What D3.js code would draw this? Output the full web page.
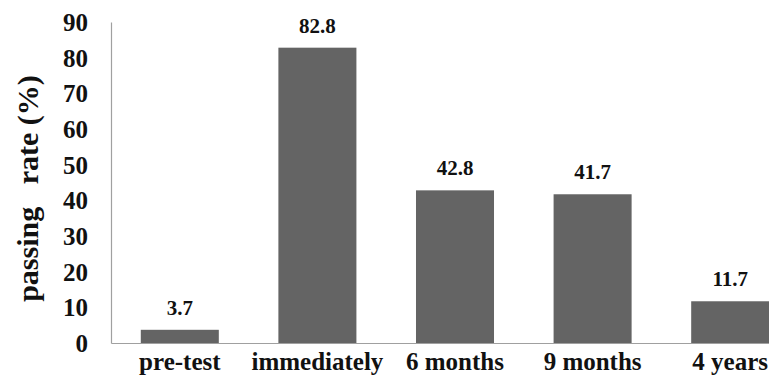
<!DOCTYPE html>
<html>
<head>
<meta charset="utf-8">
<script src="https://cdn.jsdelivr.net/npm/d3@7"></script>
<style>
  html, body { margin: 0; padding: 0; background: #fff; }
</style>
</head>
<body>
<svg id="chart" width="769" height="380"></svg>
<script>
// Passing rate at each assessment point
const categories = ["pre-test", "immediately", "6 months", "9 months", "4 years"];
const values = [3.7, 82.8, 42.8, 41.7, 11.7];
const yTicks = [0, 10, 20, 30, 40, 50, 60, 70, 80, 90];

const FONT = "\"Liberation Serif\"";
const svg = d3.select("#chart");
const plot = { left: 111, right: 799, top: 22, bottom: 343 };

function serif(sel, size) {
  sel.style("font-family", FONT)
     .style("font-weight", "bold")
     .style("font-size", size + "px")
     .attr("fill", "#111");
}

const x = d3.scaleBand()
  .domain(categories)
  .range([plot.left, plot.right])
  .paddingInner(0.433)
  .paddingOuter(0.2165);

const y = d3.scaleLinear()
  .domain([0, 90])
  .range([plot.bottom, plot.top]);

// bars
svg.append("g")
  .selectAll("rect")
  .data(values)
  .join("rect")
  .attr("x", (d, i) => x(categories[i]))
  .attr("y", d => y(d))
  .attr("width", x.bandwidth())
  .attr("height", d => y(0) - y(d))
  .attr("fill", "#646464");

// value labels
svg.append("g")
  .selectAll("text")
  .data(values)
  .join("text")
  .attr("x", (d, i) => x(categories[i]) + x.bandwidth() / 2)
  .attr("y", d => y(d) - 15)
  .attr("text-anchor", "middle")
  .call(serif, 21)
  .text(d => d.toFixed(1));

// y axis
const yAxis = svg.append("g")
  .attr("transform", `translate(${plot.left},0)`)
  .call(d3.axisLeft(y).tickValues(yTicks).tickSize(0).tickPadding(23));
yAxis.select(".domain").attr("stroke", "#a0a0a0").attr("stroke-width", 1.2);
yAxis.selectAll("text")
  .call(serif, 25)
  .attr("dy", "0.34em");

// x axis
const xAxis = svg.append("g")
  .attr("transform", `translate(0,${plot.bottom})`)
  .call(d3.axisBottom(x).tickSize(0).tickPadding(27));
xAxis.select(".domain").attr("stroke", "#a0a0a0").attr("stroke-width", 1.2);
xAxis.selectAll("text")
  .call(serif, 25)
  .attr("dy", "0em");

// y axis title
svg.append("text")
  .attr("transform", `translate(38,${(plot.top + plot.bottom) / 2 + 6}) rotate(-90)`)
  .attr("text-anchor", "middle")
  .call(serif, 30)
  .style("white-space", "pre")
  .text("passing   rate (%)");
</script>
</body>
</html>
